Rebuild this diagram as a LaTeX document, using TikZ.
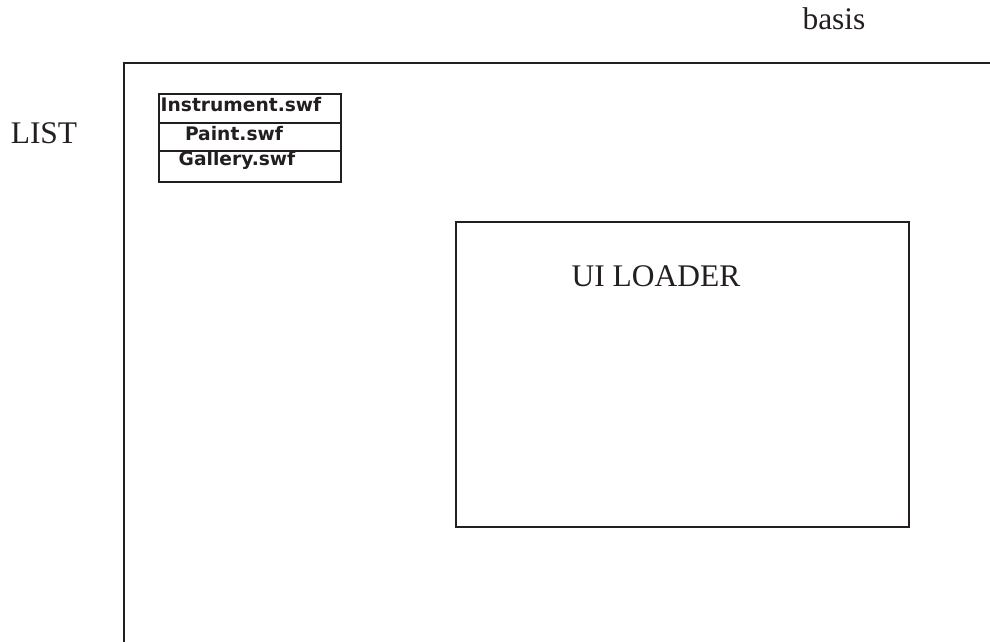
\documentclass[tikz,border=0pt]{standalone}
\usepackage{fontspec}
\setmainfont{Liberation Serif}
\newfontfamily\swffont{DejaVu Sans}
\definecolor{ink}{RGB}{35,31,32}
\tikzset{
  frame/.style={draw=ink, line width=1.8pt},
  listline/.style={draw=ink, line width=1.5pt},
  bigtext/.style={inner sep=0pt, text=ink, font=\fontsize{23.6}{28}\selectfont},
  swf/.style={inner sep=0pt, text=ink, font=\swffont\bfseries\fontsize{14}{16}\selectfont},
}
\begin{document}
\begin{tikzpicture}[x=0.75pt, y=-0.75pt]
  \useasboundingbox (0,0) rectangle (990,642);
  % outer window, cut off at right and bottom
  \draw[frame] (124,645) -- (124,63) -- (993,63);
  \node[bigtext, anchor=base] (basis) at (834,30) {basis};
  \node[bigtext, anchor=base] (list) at (44,143) {LIST};
  % list of swf files
  \draw[listline] (159,94) rectangle (341,182);
  \draw[listline] (159,123) -- (341,123);
  \draw[listline] (159,151) -- (341,151);
  \node[swf, anchor=base] (instrument) at (241,112) {Instrument.swf};
  \node[swf, anchor=base] (paint) at (234,141) {Paint.swf};
  \node[swf, anchor=base] (gallery) at (237,166) {Gallery.swf};
  % loader area
  \draw[frame] (456,222) rectangle (909,527);
  \node[bigtext, anchor=base] (loader) at (656,286) {UI LOADER};
\end{tikzpicture}
\end{document}
